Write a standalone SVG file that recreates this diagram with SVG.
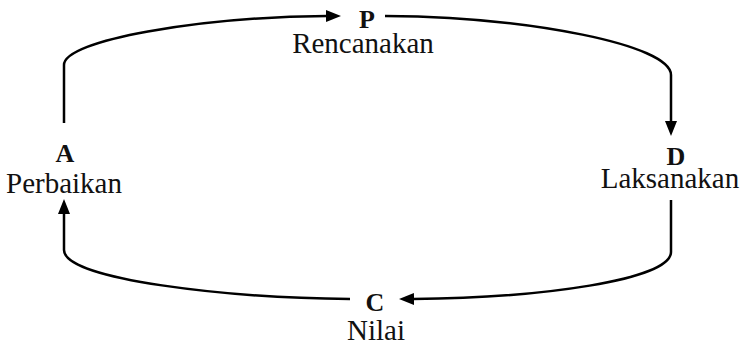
<svg xmlns="http://www.w3.org/2000/svg" width="747" height="345" viewBox="0 0 747 345">
<style>
.lbl{font-family:"Liberation Serif","Times New Roman",serif;font-size:29px;fill:#111;text-anchor:middle}
.ltr{font-family:"Liberation Serif","Times New Roman",serif;font-size:26px;font-weight:bold;fill:#111;text-anchor:middle}
.con{fill:none;stroke:#000;stroke-width:2.5}
</style>
<defs>
<marker id="ah" viewBox="0 0 15 12" refX="1" refY="6" markerWidth="15" markerHeight="12" markerUnits="userSpaceOnUse" orient="auto">
<path d="M0,0 L15,6 L0,12 z" fill="#000"/>
</marker>
</defs>
<rect width="747" height="345" fill="#fff"/>
<g id="connectors">
<path class="con" marker-end="url(#ah)" d="M64,123 V65 C64,40 200,17 327,16"/>
<path class="con" marker-end="url(#ah)" d="M385,16 C530,17 671,45 671,75 V122"/>
<path class="con" marker-end="url(#ah)" d="M671,200 V252 C671,280 540,298 413,299"/>
<path class="con" marker-end="url(#ah)" d="M350,299 C230,298 64,280 64,250 V213"/>
</g>
<g id="node-P">
<text class="ltr" x="367" y="28">P</text>
<text class="lbl" x="363" y="53">Rencanakan</text>
</g>
<g id="node-D">
<text class="ltr" x="676" y="165">D</text>
<text class="lbl" x="670" y="188">Laksanakan</text>
</g>
<g id="node-C">
<text class="ltr" x="375" y="311">C</text>
<text class="lbl" x="376" y="340">Nilai</text>
</g>
<g id="node-A">
<text class="ltr" x="65" y="162">A</text>
<text class="lbl" x="64" y="193">Perbaikan</text>
</g>
</svg>
